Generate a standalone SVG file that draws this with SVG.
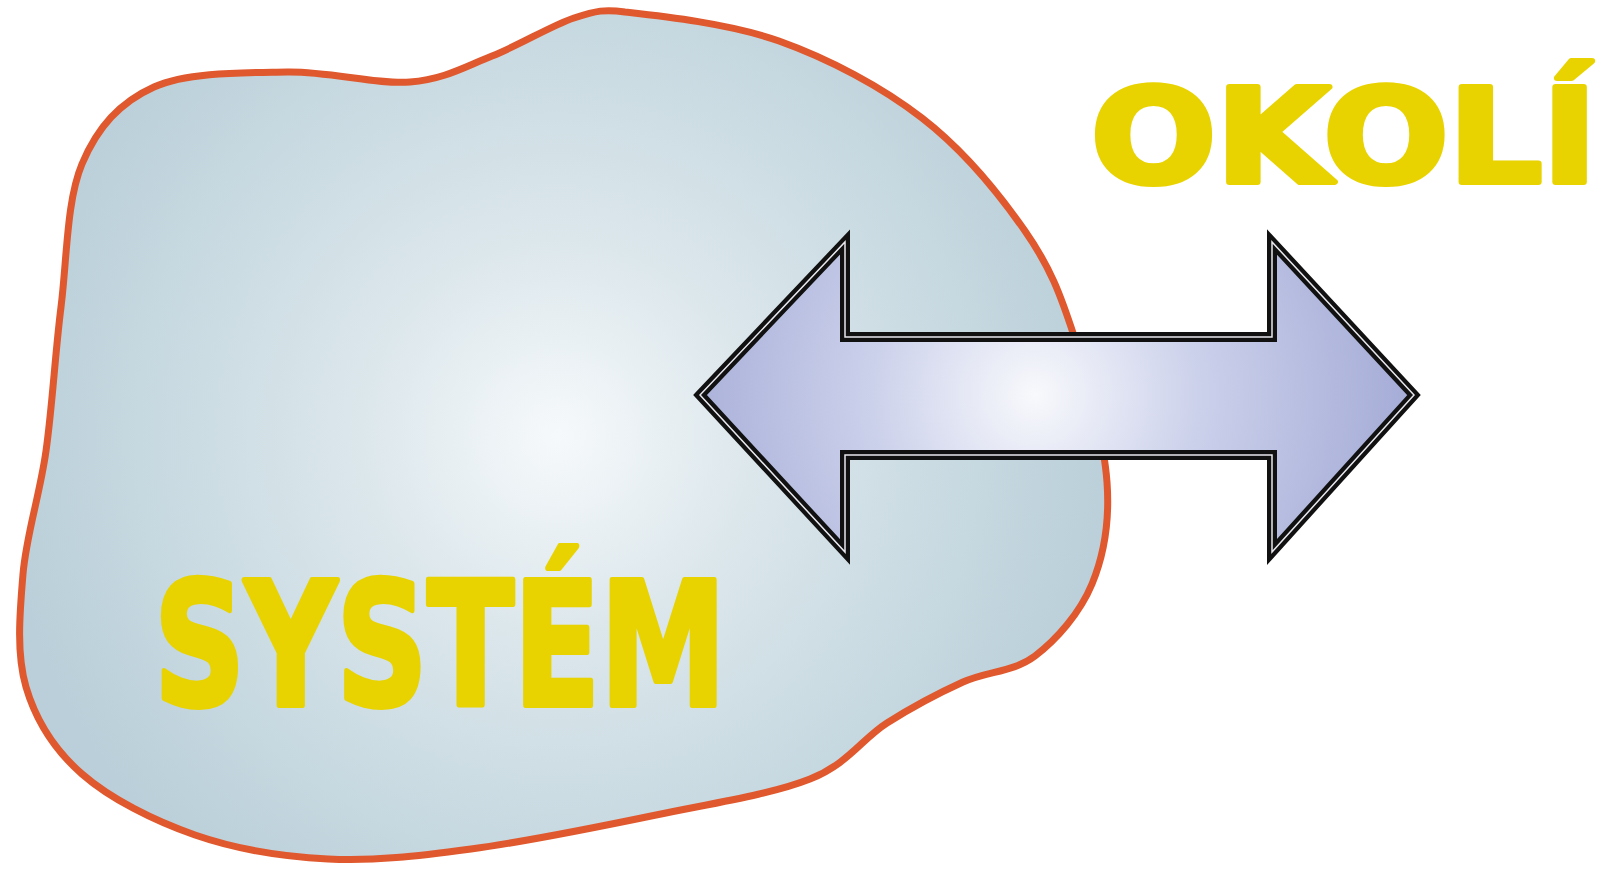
<svg xmlns="http://www.w3.org/2000/svg" width="1607" height="869" viewBox="0 0 1607 869">
<defs>
<radialGradient id="blobGrad" gradientUnits="userSpaceOnUse" cx="558" cy="436" r="560">
<stop offset="0" stop-color="#F6F9FB"/>
<stop offset="0.35" stop-color="#DCE7EC"/>
<stop offset="0.75" stop-color="#C6D8E0"/>
<stop offset="1" stop-color="#BACFD9"/>
</radialGradient>
<radialGradient id="arrowGrad" gradientUnits="userSpaceOnUse" cx="1035" cy="395" r="380">
<stop offset="0" stop-color="#F8F9FC"/>
<stop offset="0.45" stop-color="#CACFEA"/>
<stop offset="1" stop-color="#A4ABD6"/>
</radialGradient>
<style>
.label{font-family:"DejaVu Sans","Liberation Sans",sans-serif;font-weight:bold;fill:#E8D300;stroke:#E8D300;stroke-width:6;stroke-linejoin:round}
.blob{fill:url(#blobGrad);stroke:#E0582D;stroke-width:7;stroke-linejoin:round}
.arrowOuter{fill:url(#arrowGrad);stroke:#111;stroke-width:10;stroke-linejoin:miter}
.arrowInner{fill:none;stroke:#E8E8EE;stroke-width:1.5;stroke-linejoin:miter}
</style>
</defs>
<rect width="1607" height="869" fill="#FFFFFF"/>
<g id="system">
<path class="blob" d="M 625,12 C 659.2,15.8 729.5,23.3 779,41 C 828.5,58.7 881,86.3 922,118 C 963,149.7 999.7,194.7 1025,231 C 1050.3,267.3 1060.3,294.2 1074,336 C 1087.7,377.8 1104,440.7 1107,482 C 1110,523.3 1104,555 1092,584 C 1080,613 1056.5,639.7 1035,656 C 1013.5,672.3 987.7,670.8 963,682 C 938.3,693.2 912.5,706.8 887,723 C 861.5,739.2 848.5,763.7 810,779 C 771.5,794.3 712.5,803.3 656,815 C 599.5,826.7 525.7,841.7 471,849 C 416.3,856.3 374,861.3 328,859 C 282,856.7 236,849.2 195,835 C 154,820.8 110.2,798.7 82,774 C 53.8,749.3 35.8,720.3 26,687 C 16.2,653.7 19.7,613.3 23,574 C 26.3,534.7 39.7,495.5 46,451 C 52.3,406.5 55,354.8 61,307 C 67,259.2 66.5,200.7 82,164 C 97.5,127.3 119.8,102.3 154,87 C 188.2,71.7 244.3,72.8 287,72 C 329.7,71.2 375.8,84.7 410,82 C 444.2,79.3 464.7,66.7 492,56 C 519.3,45.3 551.8,25.3 574,18 C 596.2,10.7 605,9 625,12 Z"/>
<text class="label" x="154" y="705" font-size="172" textLength="572" lengthAdjust="spacingAndGlyphs">SYSTÉM</text>
</g>
<g id="okoli">
<text class="label" x="1091" y="182" font-size="130" textLength="506" lengthAdjust="spacingAndGlyphs">OKOLÍ</text>
</g>
<g id="connectors">
<polygon class="arrowOuter" points="700,395 845,242 845,337 1272,337 1272,242 1414,395 1272,552 1272,455 845,455 845,552"/>
<polygon class="arrowInner" points="700,395 845,242 845,337 1272,337 1272,242 1414,395 1272,552 1272,455 845,455 845,552"/>
</g>
</svg>
